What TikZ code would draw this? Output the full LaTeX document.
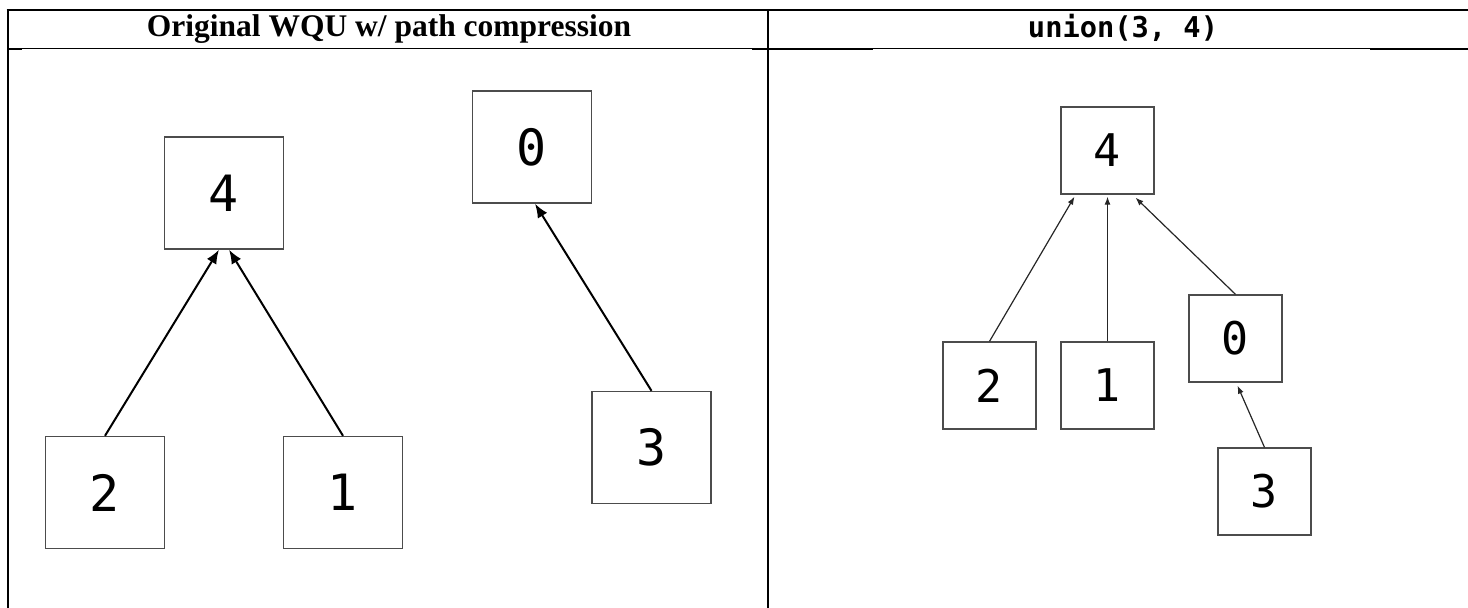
\documentclass[tikz,border=0pt]{standalone}
\usepackage{fontspec}
\setmainfont{Liberation Serif}
\newfontfamily\digitfont{DejaVu Sans Mono}
\usetikzlibrary{arrows.meta}
\tikzset{
  bigbox/.style={draw=black!70, line width=1.4pt, rectangle, inner sep=0pt,
    minimum width=119pt, minimum height=112pt,
    font=\digitfont\fontsize{50}{50}\selectfont, text=black},
  smallbox/.style={draw=black!70, line width=1.3pt, rectangle, inner sep=0pt,
    minimum width=93pt, minimum height=87pt,
    font=\digitfont\fontsize{45}{45}\selectfont, text=black},
  bigarrow/.style={line width=2pt, -{Latex[length=14pt,width=11pt]}},
  smallarrow/.style={line width=1.2pt, black!85, -{Latex[length=8pt,width=6pt]}},
  tableline/.style={line width=2pt, black},
  thinline/.style={line width=1pt, black}
}
\begin{document}
\begin{tikzpicture}[x=1pt,y=-1pt]
\useasboundingbox (0,0) rectangle (1468,608);
% table
\coordinate (tl) at (7.5,10);
\coordinate (tr) at (1468,10);
\coordinate (bl) at (7.5,608);
\coordinate (tm) at (768,10);
\coordinate (bm) at (768,608);
\coordinate (hl) at (7.5,48.5);
\coordinate (hr) at (1468,48.5);
\draw[thinline] (hl) -- (hr);
\draw[line width=2pt] (7.5,49) -- (22,49);
\draw[line width=2pt] (752,49) -- (873,49);
\draw[line width=2pt] (1370,49) -- (1468,49);
\draw[tableline] (6.5,10) -- (tr);
\draw[tableline] (tl) -- (bl);
\draw[tableline] (tm) -- (bm);
% headers
\node[anchor=base, font=\bfseries\fontsize{31.5}{31.5}\selectfont] (h1) at (389,36) {Original WQU w/ path compression};
\node[anchor=base, font=\digitfont\bfseries\fontsize{28.7}{28.7}\selectfont] (h2) at (1123,37.5) {union(3, 4)};
% left panel
\node[bigbox] (L4) at (224,193) {\raisebox{-2pt}{4}};
\node[bigbox] (L0) at (532,147) {\raisebox{-2pt}{0}};
\node[bigbox] (L2) at (105,492.5) {\raisebox{-2pt}{2}};
\node[bigbox] (L1) at (343,492.5) {\raisebox{-2pt}{1}};
\node[bigbox] (L3) at (651.5,447.5) {\raisebox{-2pt}{3}};
\draw[bigarrow] (L2.north) -- ([xshift=-5pt]L4.south);
\draw[bigarrow] (L1.north) -- ([xshift=5pt]L4.south);
\draw[bigarrow] (L3.north) -- ([xshift=3pt]L0.south);
% right panel
\node[smallbox] (R4) at (1107.5,150.5) {\raisebox{-3pt}{4}};
\node[smallbox] (R2) at (989.5,385.5) {\raisebox{-3pt}{2}};
\node[smallbox] (R1) at (1107.5,385.5) {\raisebox{-3pt}{1}};
\node[smallbox] (R0) at (1235.5,338.5) {\raisebox{-3pt}{0}};
\node[smallbox] (R3) at (1264.5,491.5) {\raisebox{-3pt}{3}};
\draw[smallarrow] (R2.north) -- ([xshift=-33pt,yshift=-2pt]R4.south);
\draw[smallarrow] (R1.north) -- ([yshift=-2pt]R4.south);
\draw[smallarrow] (R0.north) -- ([xshift=28pt,yshift=-3pt]R4.south);
\draw[smallarrow] (R3.north) -- ([xshift=2pt,yshift=-3pt]R0.south);
\end{tikzpicture}
\end{document}
